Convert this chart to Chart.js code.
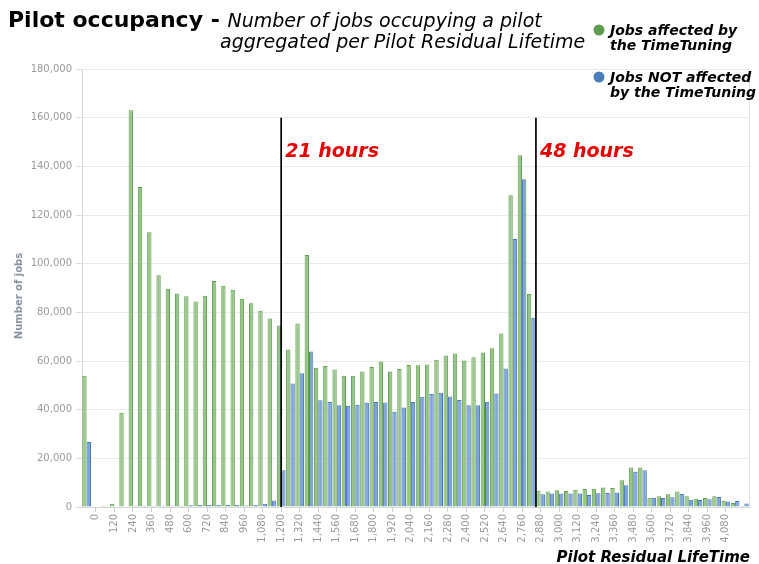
<!DOCTYPE html>
<html><head><meta charset="utf-8">
<script src="https://cdn.jsdelivr.net/npm/chart.js@4.4.1/dist/chart.umd.min.js"></script>
<style>html,body{margin:0;padding:0;background:#fff;overflow:hidden}canvas{display:block}</style>
</head><body>
<canvas id="c" width="759" height="564"></canvas>
<script>
// Pilot residual lifetime bins (minutes)
const categories = [-60,0,60,120,180,240,300,360,420,480,540,600,660,720,780,840,900,960,1020,1080,1140,1200,1260,1320,1380,1440,1500,1560,1620,1680,1740,1800,1860,1920,1980,2040,2100,2160,2220,2280,2340,2400,2460,2520,2580,2640,2700,2760,2820,2880,2940,3000,3060,3120,3180,3240,3300,3360,3420,3480,3540,3600,3660,3720,3780,3840,3900,3960,4020,4080,4140,4200];
const affected = [53900,0,500,1300,38700,163000,131500,112900,95200,89700,87700,86600,84500,86800,92900,90900,89300,85600,83700,80700,77500,74600,64700,75400,103600,57200,57900,56500,53900,53900,55700,57500,59800,55700,56700,58400,58300,58600,60500,62300,63100,60200,61500,63500,65200,71300,128100,144600,87500,6800,6400,6900,6600,7100,7400,7500,8000,7800,11000,16200,16200,3800,4400,5200,6400,4400,3400,3700,4400,2600,1600,400];
const notAffected = [26700,0,0,0,0,400,500,400,400,500,500,700,800,800,800,800,800,600,800,1300,2700,15100,50800,55000,63900,43900,43200,41800,41600,42000,42800,43100,42900,39100,40900,43200,45300,46400,47000,45400,44000,41800,41800,43300,46600,56900,110100,134700,77800,5200,5500,5500,5500,5500,4900,5600,5800,6000,8900,14500,15100,3800,3700,4000,5300,3000,2900,3200,4100,2300,2500,1400];
const xTickValues = [0,120,240,360,480,600,720,840,960,1080,1200,1320,1440,1560,1680,1800,1920,2040,2160,2280,2400,2520,2640,2760,2880,3000,3120,3240,3360,3480,3600,3720,3840,3960,4080];
const yTickMax = 180000, yTickStep = 20000;
const markerPositions = [1200, 2850];
const markerLabels = ['21 hours', '48 hours'];
const markerTop = 160000;
const seriesNames = [['Jobs affected by','the TimeTuning'], ['Jobs NOT affected','by the TimeTuning']];

const GREEN_FILL = '#97c589', GREEN_LINE = '#5f9e4b', GREEN_DOT = '#5e9c50';
const BLUE_FILL = '#7fa4d9', BLUE_LINE = '#4876ba', BLUE_DOT = '#4a7dbb';
const FONT = '"DejaVu Sans", Verdana, sans-serif';

function fmt(n){ return String(n).replace(/\B(?=(\d{3})+(?!\d))/g, ','); }

function catPixel(xs, v){
  for (let i = 0; i < categories.length - 1; i++) {
    if (v >= categories[i] && v <= categories[i+1]) {
      const f = (v - categories[i]) / (categories[i+1] - categories[i]);
      const p0 = xs.getPixelForValue(i), p1 = xs.getPixelForValue(i+1);
      return p0 + (p1 - p0) * f;
    }
  }
  return xs.getPixelForValue(categories.length - 1);
}

const deco = {
  id: 'deco',
  afterDatasetsDraw(chart){
    const {ctx, chartArea: a, scales: {x, y}} = chart;
    ctx.save();
    // right frame line
    ctx.strokeStyle = '#e2e2e2'; ctx.lineWidth = 1;
    ctx.beginPath(); ctx.moveTo(Math.round(a.right)+0.5, a.top); ctx.lineTo(Math.round(a.right)+0.5, a.bottom); ctx.stroke();
    // markers
    markerPositions.forEach((m, i) => {
      const px = catPixel(x, m);
      const yt = y.getPixelForValue(markerTop), yb = y.getPixelForValue(0);
      ctx.strokeStyle = '#000'; ctx.lineWidth = 1.7;
      ctx.beginPath(); ctx.moveTo(px, yt); ctx.lineTo(px, yb); ctx.stroke();
      ctx.fillStyle = '#e60000';
      ctx.font = 'italic bold 19px ' + FONT;
      ctx.textAlign = 'left'; ctx.textBaseline = 'alphabetic';
      ctx.fillText(markerLabels[i], px + 4, yt + 39);
    });
    ctx.restore();
  },
  afterDraw(chart){
    const ctx = chart.ctx;
    ctx.save();
    ctx.textBaseline = 'alphabetic';
    ctx.fillStyle = '#000';
    // title
    ctx.textAlign = 'left';
    ctx.font = 'bold 22px ' + FONT;
    let xPos = 8;
    ctx.fillText('Pilot occupancy', xPos, 27);
    xPos += ctx.measureText('Pilot occupancy').width;
    ctx.fillText(' - ', xPos, 27);
    xPos += ctx.measureText(' - ').width;
    ctx.font = 'italic 19px ' + FONT;
    ctx.fillText('Number of jobs occupying a pilot', xPos, 27);
    ctx.fillText('aggregated per Pilot Residual Lifetime', 220, 48);
    // legend
    const dots = [GREEN_DOT, BLUE_DOT];
    const base = [35, 82];
    ctx.font = 'italic bold 14px ' + FONT;
    seriesNames.forEach((lines, i) => {
      ctx.fillStyle = dots[i];
      ctx.beginPath(); ctx.arc(599, base[i] - 5, 5.5, 0, Math.PI*2); ctx.fill();
      ctx.fillStyle = '#000';
      lines.forEach((t, j) => ctx.fillText(t, 610, base[i] + j*15));
    });
    // x axis title
    ctx.font = 'italic bold 15px ' + FONT;
    ctx.textAlign = 'right';
    ctx.fillText('Pilot Residual LifeTime', 750, 562);
    // y axis title
    ctx.save();
    ctx.translate(19, 296);
    ctx.rotate(-Math.PI / 2);
    ctx.textAlign = 'center'; ctx.textBaseline = 'middle';
    ctx.fillStyle = '#8a949e';
    ctx.font = 'bold 10px ' + FONT;
    ctx.fillText('Number of jobs', 0, 0);
    ctx.restore();
    ctx.restore();
  }
};

new Chart(document.getElementById('c'), {
  type: 'bar',
  data: {
    labels: categories,
    datasets: [
      {label: seriesNames[0].join(' '), data: affected, backgroundColor: GREEN_FILL, borderColor: GREEN_LINE, borderWidth: 1, categoryPercentage: 0.94, barPercentage: 1.0},
      {label: seriesNames[1].join(' '), data: notAffected, backgroundColor: BLUE_FILL, borderColor: BLUE_LINE, borderWidth: 1, categoryPercentage: 0.94, barPercentage: 1.0}
    ]
  },
  options: {
    responsive: false,
    devicePixelRatio: 1,
    animation: false,
    layout: {padding: {top: 69, right: 10, left: 0, bottom: 0}},
    plugins: {legend: {display: false}, title: {display: false}, tooltip: {enabled: false}},
    scales: {
      x: {
        grid: {offset: false, drawOnChartArea: false, drawTicks: true, tickLength: 5,
          color: (c) => (c.index !== undefined && xTickValues.includes(categories[c.index])) ? '#cfcfcf' : 'rgba(0,0,0,0)'},
        border: {color: '#d8d8d8'},
        ticks: {autoSkip: false, minRotation: 90, maxRotation: 90, color: '#9a9a9a', padding: 2,
          font: {family: FONT, size: 10},
          callback: function(v, i){ const c = categories[i]; return xTickValues.includes(c) ? fmt(c) : ''; }},
        afterFit(s){ s.height = 57; }
      },
      y: {
        min: 0, max: yTickMax,
        grid: {color: '#ececec', tickLength: 6, tickColor: '#dddddd'},
        border: {color: '#d8d8d8'},
        ticks: {stepSize: yTickStep, color: '#9a9a9a', padding: 4, font: {family: FONT, size: 10}, callback: (v) => fmt(v)},
        title: {display: false},
        afterFit(s){ s.width = 82; }
      }
    }
  },
  plugins: [deco]
});
</script>
</body></html>
